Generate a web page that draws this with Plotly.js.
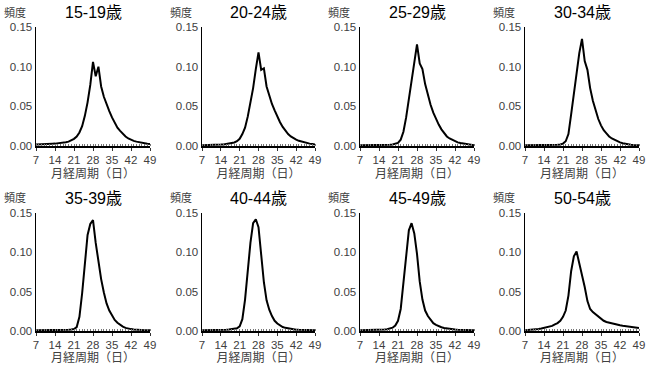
<!DOCTYPE html>
<html><head><meta charset="utf-8">
<script src="https://cdn.plot.ly/plotly-3.0.1.min.js"></script>
<style>html,body{margin:0;padding:0;background:#fff}#chart{width:650px;height:365px}</style>
</head><body><div id="chart"></div>
<script>
const days = [7,8,9,10,11,12,13,14,15,16,17,18,19,20,21,22,23,24,25,26,27,28,29,30,31,32,33,34,35,36,37,38,39,40,41,42,43,44,45,46,47,48,49];
const groups = ["15-19歳","20-24歳","25-29歳","30-34歳","35-39歳","40-44歳","45-49歳","50-54歳"];
const f15_19 = [0.002,0.002,0.002,0.002,0.0022,0.0025,0.0028,0.003,0.0033,0.0037,0.0042,0.0048,0.0055,0.007,0.009,0.012,0.017,0.025,0.038,0.055,0.077,0.106,0.088,0.100,0.075,0.062,0.052,0.044,0.036,0.029,0.023,0.019,0.015,0.012,0.0095,0.0078,0.0065,0.0055,0.0046,0.0038,0.0032,0.0028,0.0025];
const f20_24 = [0.001,0.001,0.001,0.001,0.0012,0.0014,0.0016,0.0018,0.002,0.0025,0.003,0.0035,0.0045,0.006,0.009,0.015,0.023,0.037,0.053,0.073,0.097,0.118,0.096,0.098,0.075,0.063,0.053,0.045,0.037,0.030,0.024,0.019,0.015,0.012,0.0095,0.008,0.0065,0.0055,0.0045,0.0038,0.003,0.0025,0.002];
const f25_29 = [0.0008,0.0008,0.0009,0.0009,0.001,0.001,0.001,0.0011,0.0012,0.0013,0.0014,0.0015,0.0018,0.0025,0.004,0.008,0.018,0.036,0.058,0.083,0.108,0.128,0.104,0.097,0.078,0.064,0.052,0.042,0.034,0.027,0.021,0.016,0.012,0.0095,0.0075,0.0058,0.0046,0.0037,0.003,0.0023,0.0018,0.0014,0.001];
const f30_34 = [0.0008,0.0008,0.0008,0.0009,0.0009,0.001,0.001,0.001,0.0011,0.0011,0.0012,0.0013,0.0015,0.002,0.003,0.006,0.015,0.040,0.068,0.095,0.117,0.135,0.107,0.096,0.073,0.057,0.044,0.034,0.026,0.020,0.016,0.012,0.0095,0.0075,0.006,0.0045,0.0035,0.0027,0.002,0.0017,0.0014,0.0012,0.001];
const f35_39 = [0.0008,0.0008,0.0008,0.0009,0.0009,0.001,0.001,0.001,0.0011,0.0011,0.0012,0.0013,0.0015,0.0018,0.0025,0.005,0.018,0.048,0.088,0.122,0.136,0.141,0.112,0.088,0.066,0.049,0.035,0.026,0.019,0.014,0.0105,0.0078,0.0055,0.004,0.003,0.0024,0.002,0.0016,0.0013,0.0012,0.0011,0.001,0.001];
const f40_44 = [0.001,0.001,0.001,0.0011,0.0011,0.0012,0.0012,0.0013,0.0015,0.0017,0.002,0.0023,0.0026,0.0035,0.006,0.015,0.040,0.078,0.112,0.137,0.142,0.132,0.092,0.062,0.039,0.027,0.019,0.013,0.0095,0.0068,0.005,0.004,0.0032,0.0026,0.002,0.0017,0.0015,0.0013,0.0012,0.0011,0.001,0.001,0.001];
const f45_49 = [0.001,0.001,0.001,0.001,0.001,0.001,0.0012,0.0014,0.0016,0.0018,0.0022,0.003,0.0042,0.007,0.013,0.028,0.062,0.102,0.128,0.137,0.124,0.098,0.063,0.040,0.026,0.019,0.014,0.010,0.0078,0.006,0.0048,0.0039,0.0032,0.0026,0.0021,0.0018,0.0016,0.0014,0.0013,0.0012,0.0011,0.001,0.001];
const f50_54 = [0.001,0.0012,0.0014,0.0017,0.002,0.0025,0.0032,0.004,0.0045,0.005,0.0065,0.0085,0.010,0.013,0.018,0.026,0.045,0.076,0.095,0.101,0.086,0.075,0.056,0.038,0.028,0.024,0.021,0.018,0.015,0.013,0.0115,0.0105,0.0096,0.009,0.008,0.0072,0.0066,0.006,0.0053,0.0048,0.0044,0.004,0.0038];
const series = [f15_19,f20_24,f25_29,f30_34,f35_39,f40_44,f45_49,f50_54];
const xTicks = [7,14,21,28,35,42,49];
const yTicks = [0,0.05,0.10,0.15];
const yTickText = ["0.00","0.05","0.10","0.15"];
const yLabel = "頻度";
const xLabel = "月経周期（日）";

const FONT = "Liberation Sans, Noto Sans CJK JP, sans-serif";
const colDom = [[36/650,150/650],[202/650,315/650],[360/650,474/650],[525/650,639/650]];
const rowDom = [[1-146/365,1-27/365],[1-331/365,1-213/365]];

const data = [];
const layout = {
  width:650, height:365, margin:{l:0,r:0,t:0,b:0},
  paper_bgcolor:'#fff', plot_bgcolor:'#fff', showlegend:false,
  font:{family:FONT, color:'#404040', size:11},
  annotations:[]
};
series.forEach((s,i)=>{
  const k = i+1;
  const xa = k===1?'x':'x'+k, ya = k===1?'y':'y'+k;
  data.push({x:days, y:s, type:'scatter', mode:'lines', xaxis:xa, yaxis:ya,
    line:{color:'#000', width:2}, hoverinfo:'skip'});
  const c = i%4, r = Math.floor(i/4);
  layout[k===1?'xaxis':'xaxis'+k] = {
    domain:colDom[c], anchor:ya, range:[7,49], tickvals:xTicks,
    ticks:'outside', ticklen:3, tickwidth:1, tickcolor:'#333', showgrid:false,
    zeroline:false, showline:true, linecolor:'#000', linewidth:1.5,
    tickfont:{size:11.5, color:'#404040'},
    minor:{dtick:1, tick0:7, ticks:'inside', ticklen:2, tickcolor:'#777', tickwidth:1, showgrid:false},
    title:{text:xLabel, font:{size:12, color:'#404040'}, standoff:4}
  };
  layout[k===1?'yaxis':'yaxis'+k] = {
    domain:rowDom[r], anchor:xa, range:[0,0.15], tickvals:yTicks, ticktext:yTickText,
    ticks:'', showgrid:false, zeroline:false, showline:true, linecolor:'#000', linewidth:1.5,
    tickfont:{size:11.5, color:'#404040'}
  };
  const yTop = r===0 ? 1-13/365 : 1-198/365;
  layout.annotations.push({text:groups[i], xref:'paper', yref:'paper',
    x:(colDom[c][0]+colDom[c][1])/2, y:yTop, xanchor:'center', yanchor:'middle',
    showarrow:false, font:{size:16, color:'#000'}});
  layout.annotations.push({text:yLabel, xref:'paper', yref:'paper',
    x:colDom[c][0]-8/650, y:yTop, xanchor:'right', yanchor:'middle',
    showarrow:false, font:{size:11, color:'#404040'}});
});
Plotly.newPlot('chart', data, layout, {staticPlot:true, displayModeBar:false});
</script></body></html>
